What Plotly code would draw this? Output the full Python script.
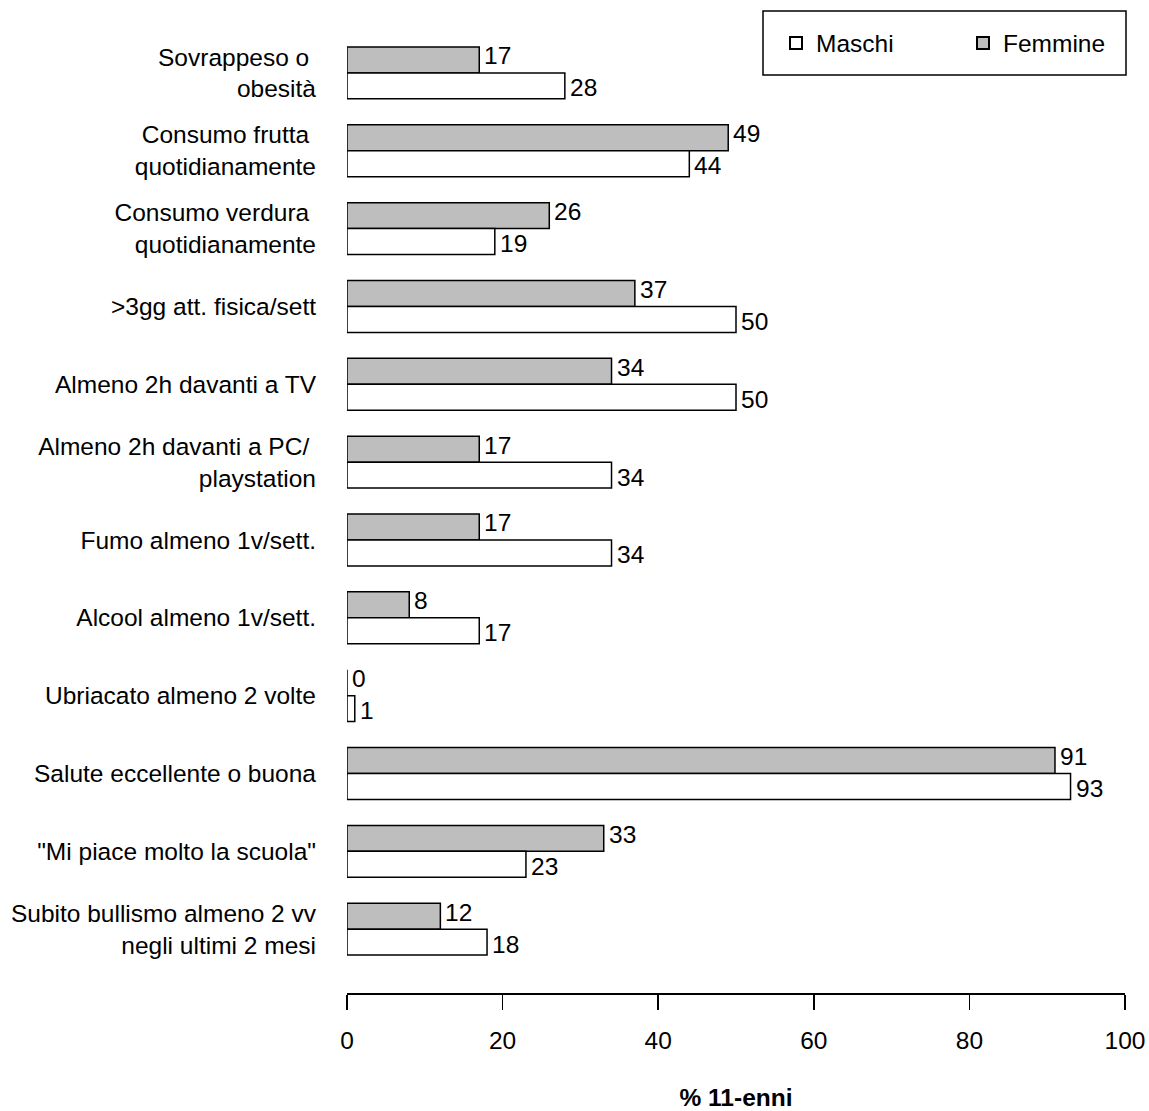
import plotly.graph_objects as go

categories = [
    "Sovrappeso o\u00a0<br>obesità",
    "Consumo frutta\u00a0<br>quotidianamente",
    "Consumo verdura\u00a0<br>quotidianamente",
    ">3gg att. fisica/sett",
    "Almeno 2h davanti a TV",
    "Almeno 2h davanti a PC/\u00a0<br>playstation",
    "Fumo almeno 1v/sett.",
    "Alcool almeno 1v/sett.",
    "Ubriacato almeno 2 volte",
    "Salute eccellente o buona",
    "\"Mi piace molto la scuola\"",
    "Subito bullismo almeno 2 vv<br>negli ultimi 2 mesi",
]
femmine = [17, 49, 26, 37, 34, 17, 17, 8, 0, 91, 33, 12]
maschi = [28, 44, 19, 50, 50, 34, 34, 17, 1, 93, 23, 18]
x_ticks = [0, 20, 40, 60, 80, 100]

FONT = "Arial, 'Liberation Sans', sans-serif"
FS = 24.5

PL, PR, PT, PB = 347, 1125, 34, 993  # plot area in page pixels
W, H = 1149, 1111

fig = go.Figure()
fig.add_trace(go.Bar(
    y=categories, x=femmine, name="Femmine", orientation="h",
    marker=dict(color="#BEBEBE", line=dict(color="black", width=1.5)),
    legendrank=2,
))
fig.add_trace(go.Bar(
    y=categories, x=maschi, name="Maschi", orientation="h",
    marker=dict(color="white", line=dict(color="black", width=1.5)),
    legendrank=1,
))

annotations = []
for cat, f, m in zip(categories, femmine, maschi):
    annotations.append(dict(x=f, y=cat, xref="x", yref="y", text=str(f), showarrow=False,
                            xanchor="left", yanchor="middle", xshift=3, yshift=17,
                            font=dict(family=FONT, size=FS, color="black")))
    annotations.append(dict(x=m, y=cat, xref="x", yref="y", text=str(m), showarrow=False,
                            xanchor="left", yanchor="middle", xshift=3, yshift=-15,
                            font=dict(family=FONT, size=FS, color="black")))

pw = PR - PL
ph = PB - PT


def px(xp):
    return (xp - PL) / pw


def py(yp):
    return 1 - (yp - PT) / ph


n = len(categories)
fig.update_layout(
    width=W, height=H,
    paper_bgcolor="white", plot_bgcolor="white",
    font=dict(family=FONT, size=FS, color="black"),
    barmode="group", bargap=1/3, bargroupgap=0,
    margin=dict(l=PL, r=W - PR, t=PT, b=H - PB, autoexpand=False),
    showlegend=True,
    legend=dict(
        orientation="h", x=px(776), xanchor="left", y=py(43), yanchor="middle",
        borderwidth=0, bgcolor="rgba(0,0,0,0)",
        font=dict(family=FONT, size=FS, color="black"),
        entrywidth=142, entrywidthmode="pixels",
        itemsizing="constant",
    ),
    shapes=[dict(type="rect", xref="paper", yref="paper",
                 x0=px(763), x1=px(1126), y0=py(75), y1=py(11),
                 line=dict(color="black", width=1.5), fillcolor="rgba(0,0,0,0)")],
    annotations=annotations,
    xaxis=dict(
        range=[0, 100], tickvals=x_ticks, ticktext=[str(t) for t in x_ticks],
        showgrid=False, zeroline=False, showline=True, linecolor="black", linewidth=1.5,
        ticks="outside", ticklen=15, tickwidth=1.5, tickcolor="black",
        ticklabelstandoff=10, automargin=False,
        title=dict(text="<b>% 11-enni</b>", font=dict(family=FONT, size=FS), standoff=36),
    ),
    yaxis=dict(
        categoryorder="array", categoryarray=categories,
        range=[n - 0.5 + 0.32, -0.5],
        showgrid=False, zeroline=False, showline=False, ticks="",
        ticklabelstandoff=30, automargin=False,
    ),
)

fig.write_html(
    "out.html",
    config={"displayModeBar": False, "staticPlot": True},
    post_script="document.body.style.margin='0';document.body.style.overflow='hidden';",
)
